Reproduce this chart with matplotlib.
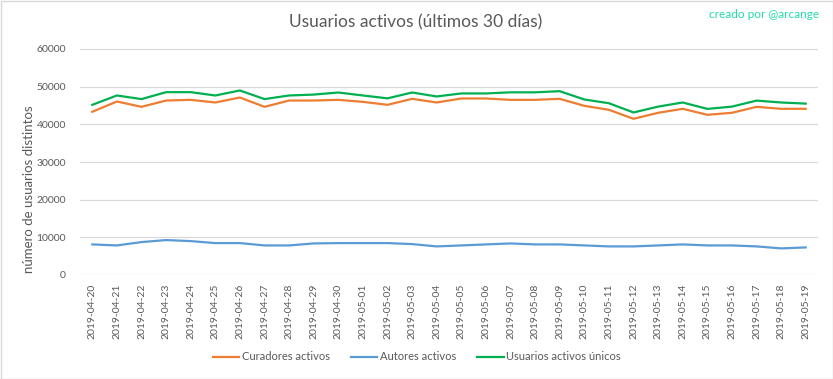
import matplotlib
matplotlib.use("Agg")
import matplotlib.pyplot as plt
from matplotlib.patches import Rectangle

dates = ["2019-04-20", "2019-04-21", "2019-04-22", "2019-04-23", "2019-04-24", "2019-04-25",
         "2019-04-26", "2019-04-27", "2019-04-28", "2019-04-29", "2019-04-30", "2019-05-01",
         "2019-05-02", "2019-05-03", "2019-05-04", "2019-05-05", "2019-05-06", "2019-05-07",
         "2019-05-08", "2019-05-09", "2019-05-10", "2019-05-11", "2019-05-12", "2019-05-13",
         "2019-05-14", "2019-05-15", "2019-05-16", "2019-05-17", "2019-05-18", "2019-05-19"]

curadores = [43330, 46060, 44650, 46320, 46500, 45800, 47120, 44650, 46320, 46320,
             46500, 45970, 45180, 46770, 45800, 46860, 46860, 46500, 46500, 46770,
             44910, 43860, 41470, 43060, 44120, 42530, 43060, 44650, 44120, 44120]

autores = [8120, 7850, 8740, 9270, 9000, 8470, 8470, 7850, 7850, 8380,
           8470, 8470, 8470, 8210, 7590, 7850, 8120, 8380, 8120, 8120,
           7850, 7590, 7590, 7850, 8120, 7850, 7850, 7590, 7060, 7320]

unicos = [45180, 47660, 46700, 48540, 48540, 47660, 48990, 46700, 47660, 47900,
          48450, 47660, 46900, 48450, 47400, 48200, 48200, 48500, 48500, 48800,
          46600, 45600, 43150, 44700, 45800, 44100, 44700, 46300, 45800, 45500]

series_names = ["Curadores activos", "Autores activos", "Usuarios activos únicos"]
yticks = [0, 10000, 20000, 30000, 40000, 50000, 60000]

plt.rcParams['font.family'] = ['Lato', 'DejaVu Sans']
txt = '#595959'

fig = plt.figure(figsize=(8.33, 3.79), dpi=100)
ax = fig.add_axes([80/833, 1-275/379, (818-80)/833, (275-49)/379])

x = list(range(len(dates)))
ax.plot(x, curadores, color='#ED7D31', lw=1.6, label=series_names[0], zorder=3)
ax.plot(x, autores, color='#5B9BD5', lw=1.6, label=series_names[1], zorder=3)
ax.plot(x, unicos, color='#00B050', lw=1.6, label=series_names[2], zorder=3)

ax.set_xlim(-0.5, len(dates) - 0.5)
ax.set_ylim(0, 60000)
ax.set_yticks(yticks)
ax.set_yticklabels([str(v) for v in yticks])
ax.set_xticks(x)
ax.set_xticklabels(dates, rotation=90)
ax.tick_params(axis='both', length=0, colors=txt, labelsize=7.5)
ax.tick_params(axis='x', pad=6)
ax.tick_params(axis='y', pad=10)
ax.grid(axis='y', color='#D9D9D9', lw=0.9)
ax.set_axisbelow(True)
for s in ax.spines.values():
    s.set_visible(False)

ax.set_ylabel("número de usuarios distintos", color=txt, fontsize=9.5)
ax.yaxis.set_label_coords(35/833, 0.5, transform=fig.transFigure)

fig.text(416/833, 1-22/379, "Usuarios activos (últimos 30 días)", ha='center', va='center',
         fontsize=12.5, color=txt)
fig.text(764/833, 1-14/379, "creado por @arcange", ha='center', va='center',
         fontsize=8.5, color='#22DDAA')

leg = fig.legend(loc='center', bbox_to_anchor=(0.5, 1-357/379), ncol=3, frameon=False,
                 fontsize=8, handlelength=2.4, handletextpad=0.2, columnspacing=1.9,
                 labelcolor=txt)

fig.patches.append(Rectangle((0.5/833, 0.5/379), 1-1/833, 1-1/379, transform=fig.transFigure,
                             fill=False, edgecolor='#D9D9D9', lw=1))

fig.savefig("out.png", dpi=100)
